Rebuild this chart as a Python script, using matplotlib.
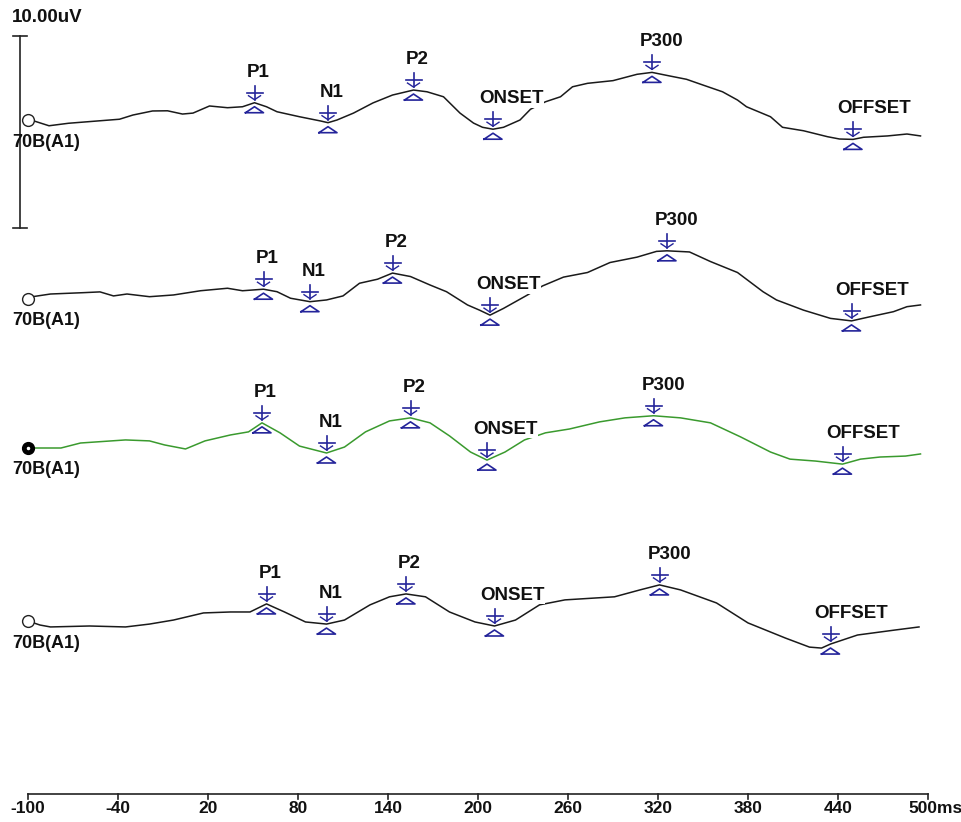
import numpy as np
import matplotlib
matplotlib.use("Agg")
import matplotlib.pyplot as plt

# --- ERP waveforms: latency (ms) and amplitude (uV) ---
t1_ms = [-100, -96, -86, -73, -52, -39, -30, -17, -7, 3, 10, 21, 33, 43, 51, 59, 66, 81, 95,
         100, 106, 117, 130, 143, 157, 166, 177, 188, 197, 203, 210, 217, 228, 235, 245, 255,
         263, 273, 290, 306, 316, 328, 339, 350, 363, 373, 379, 395, 403, 417, 433, 441, 450,
         457, 473, 486, 495]
t1_uv = [0.0, -0.05, -0.30, -0.17, -0.04, 0.04, 0.26, 0.47, 0.48, 0.31, 0.36, 0.73, 0.64, 0.69,
         0.90, 0.69, 0.43, 0.17, -0.05, -0.14, 0.0, 0.36, 0.89, 1.30, 1.56, 1.47, 1.21, 0.36,
         -0.16, -0.38, -0.48, -0.38, 0.0, 0.56, 0.95, 1.21, 1.73, 1.91, 2.05, 2.38, 2.48, 2.29,
         2.12, 1.82, 1.47, 1.04, 0.69, 0.17, -0.38, -0.56, -0.87, -0.99, -1.01, -0.90, -0.83,
         -0.73, -0.83]

t2_ms = [-100, -97, -85, -63, -52, -43, -34, -19, -3, 15, 33, 43, 57, 66, 75, 88, 99, 110,
         121, 133, 143, 155, 168, 179, 193, 201, 208, 217, 233, 243, 257, 273, 288, 306, 319,
         326, 341, 355, 373, 390, 399, 417, 435, 449, 461, 477, 486, 495]
t2_uv = [0.0, 0.12, 0.26, 0.33, 0.37, 0.16, 0.26, 0.12, 0.21, 0.43, 0.56, 0.43, 0.51, 0.38,
         0.04, -0.14, -0.05, 0.16, 0.82, 1.03, 1.35, 1.17, 0.73, 0.38, -0.31, -0.58, -0.84,
         -0.49, 0.21, 0.68, 1.14, 1.38, 1.90, 2.18, 2.48, 2.51, 2.45, 1.95, 1.38, 0.38, -0.05,
         -0.58, -1.01, -1.14, -0.93, -0.66, -0.40, -0.31]

t3_ms = [-100, -78, -65, -35, -19, -9, 5, 18, 35, 47, 56, 68, 81, 99, 111, 125, 141, 155, 168,
         181, 195, 206, 218, 231, 245, 261, 281, 298, 317, 335, 355, 375, 395, 408, 425, 443,
         455, 468, 485, 495]
t3_uv = [0.0, 0.0, 0.26, 0.42, 0.37, 0.16, -0.05, 0.37, 0.68, 0.84, 1.31, 0.79, 0.10, -0.26,
         0.05, 0.84, 1.41, 1.57, 1.31, 0.63, -0.21, -0.63, -0.21, 0.42, 0.79, 0.99, 1.36, 1.57,
         1.68, 1.57, 1.31, 0.58, -0.21, -0.58, -0.68, -0.84, -0.58, -0.47, -0.42, -0.31]

t4_ms = [-100, -92, -85, -59, -35, -19, -3, 17, 35, 48, 59, 71, 85, 99, 111, 128, 141, 152, 165,
         181, 198, 211, 225, 241, 258, 291, 308, 321, 335, 359, 380, 405, 421, 429, 435, 453,
         478, 494]
t4_uv = [0.0, -0.21, -0.31, -0.26, -0.31, -0.16, 0.05, 0.42, 0.47, 0.47, 0.89, 0.47, -0.05,
         -0.16, 0.05, 0.84, 1.26, 1.41, 1.26, 0.47, -0.05, -0.26, 0.05, 0.84, 1.10, 1.26, 1.62,
         1.88, 1.62, 0.94, -0.10, -0.89, -1.36, -1.41, -1.20, -0.73, -0.47, -0.31]

# peak markers (latency in ms) for each trace
peak_names = ["P1", "N1", "P2", "ONSET", "P300", "OFFSET"]
m1_ms = [51, 100, 157, 210, 316, 450]
m2_ms = [57, 88, 143, 208, 326, 449]
m3_ms = [56, 99, 155, 206, 317, 443]
m4_ms = [59, 99, 152, 211, 321, 435]

channel = "70B(A1)"
x_ticks = [-100, -40, 20, 80, 140, 200, 260, 320, 380, 440, 500]
x_tick_labels = ["-100", "-40", "20", "80", "140", "200", "260", "320", "380", "440", "500ms"]
scale_uv = 10.0

# --- layout (pixel based, 961x822 @ 100 dpi) ---
W, H = 961, 822
PX_MS = 1.5      # px per ms
PX_UV = 19.2     # px per uV
X0 = -100 - 28 / PX_MS
baselines = [(H - 120) / PX_UV, (H - 299) / PX_UV, (H - 448) / PX_UV, (H - 621) / PX_UV]
navy = "#24249a"
ink = "#111111"

fig = plt.figure(figsize=(W / 100, H / 100), dpi=100)
ax = fig.add_axes([0, 0, 1, 1])
ax.set_xlim(X0, X0 + W / PX_MS)
ax.set_ylim(0, H / PX_UV)
ax.axis("off")


def px(x, y, dx, dy):
    return x + dx / PX_MS, y + dy / PX_UV


def draw_peak(x, y, name):
    # down arrow above the peak
    a = [px(x, y, 0, 17), px(x, y, 0, 3)]
    ax.plot(*zip(*a), color=navy, lw=1.2, zorder=4)
    b = [px(x, y, -8, 10), px(x, y, 8, 10)]
    ax.plot(*zip(*b), color=navy, lw=1.2, zorder=4)
    c = [px(x, y, -6, 7), px(x, y, 0, 3), px(x, y, 6, 7)]
    ax.plot(*zip(*c), color=navy, lw=1.0, zorder=4)
    # open triangle below the peak
    t = [px(x, y, -9, -10), px(x, y, 0, -4), px(x, y, 9, -10), px(x, y, -9, -10)]
    ax.plot(*zip(*t), color=navy, lw=1.2, zorder=4)
    tx, ty = px(x, y, -(4 + 2 * len(name)), 26)
    ax.text(tx, ty, name, ha="left", va="baseline", fontsize=13.5, fontweight="bold",
            family="Liberation Sans", color=ink, zorder=5,
            bbox=dict(facecolor="white", edgecolor="none", pad=0.3))


traces = [(t1_ms, t1_uv, m1_ms, "#1a1a1a"), (t2_ms, t2_uv, m2_ms, "#1a1a1a"),
          (t3_ms, t3_uv, m3_ms, "#3a9a2e"), (t4_ms, t4_uv, m4_ms, "#1a1a1a")]

for i, (ts, vs, ms, col) in enumerate(traces):
    base = baselines[i]
    ts = np.array(ts)
    vs = np.array(vs) + base
    ax.plot(ts, vs, color=col, lw=1.1, zorder=3)
    if i == 2:
        ax.plot(ts[0], vs[0], "o", ms=8.5, mfc="black", mec="black", zorder=6)
        ax.plot(ts[0], vs[0], "o", ms=1.5, mfc="white", mec="white", zorder=7)
    else:
        ax.plot(ts[0], vs[0], "o", ms=8.5, mfc="white", mec="#222222", mew=1.0, zorder=6)
    for lat, name in zip(ms, peak_names):
        draw_peak(lat, np.interp(lat, ts, vs), name)
    lx, ly = px(X0, base, 12, -22)
    ax.text(lx, ly, channel, ha="left", va="center", fontsize=13, fontweight="bold",
            family="Liberation Sans", color=ink, zorder=5)

# calibration bar
bar_x = X0 + 20 / PX_MS
bar_bot = (H - 228) / PX_UV
ax.plot([bar_x, bar_x], [bar_bot, bar_bot + scale_uv], color="#222222", lw=1.2)
for yy in (bar_bot, bar_bot + scale_uv):
    ax.plot([bar_x - 7 / PX_MS, bar_x + 7 / PX_MS], [yy, yy], color="#222222", lw=1.2)
ax.text(X0 + 12 / PX_MS, (H - 18) / PX_UV, "%.2fuV" % scale_uv, ha="left", va="center",
        fontsize=13.5, fontweight="bold", family="Liberation Sans", color=ink)

# time axis
axis_y = (H - 794) / PX_UV
ax.plot([x_ticks[0], x_ticks[-1]], [axis_y, axis_y], color="#222222", lw=1.2)
for xt, lab in zip(x_ticks, x_tick_labels):
    ax.plot([xt, xt], [axis_y, axis_y - 5 / PX_UV], color="#222222", lw=1.2)
    if lab.endswith("ms"):
        ax.text(xt - 20 / PX_MS, (H - 808) / PX_UV, lab, ha="left", va="center",
                fontsize=12.5, fontweight="bold", family="Liberation Sans", color=ink)
    else:
        ax.text(xt, (H - 808) / PX_UV, lab, ha="center", va="center", fontsize=12.5,
                fontweight="bold", family="Liberation Sans", color=ink)

fig.savefig("out.png", dpi=100)
